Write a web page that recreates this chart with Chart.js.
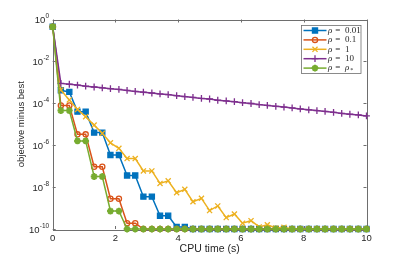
<!DOCTYPE html>
<html>
<head>
<meta charset="utf-8">
<script src="https://cdn.jsdelivr.net/npm/chart.js@4/dist/chart.umd.min.js"></script>
<style>
  html,body{margin:0;padding:0;background:#fff}
  #c{display:block}
</style>
</head>
<body>
<canvas id="c" width="407" height="258"></canvas>
<script>
// CPU time samples (s)
const tSec = [0, 0.26, 0.53, 0.79, 1.05, 1.32, 1.58, 1.84, 2.11, 2.37, 2.63, 2.89, 3.16,
  3.42, 3.68, 3.95, 4.21, 4.47, 4.74, 5.00, 5.26, 5.53, 5.79, 6.05, 6.32, 6.58, 6.84,
  7.11, 7.37, 7.63, 7.89, 8.16, 8.42, 8.68, 8.95, 9.21, 9.47, 9.74, 10.00];

const rho001 = [0.45, 4.2e-4, 3.5e-4, 4.0e-5, 4.0e-5, 4.0e-6, 4.0e-6, 3.4e-7, 3.4e-7,
  3.6e-8, 3.6e-8, 3.5e-9, 3.5e-9, 4.3e-10, 4.3e-10, 1.26e-10, 1.26e-10,
  1e-10, 1e-10, 1e-10, 1e-10, 1e-10, 1e-10, 1e-10, 1e-10, 1e-10, 1e-10, 1e-10,
  1e-10, 1e-10, 1e-10, 1e-10, 1e-10, 1e-10, 1e-10, 1e-10, 1e-10, 1e-10, 1e-10];

const rho01 = [0.45, 7.8e-5, 7.8e-5, 3.3e-6, 3.3e-6, 9.3e-8, 9.3e-8, 2.8e-9, 2.8e-9,
  1.9e-10, 1.9e-10, 1e-10, 1e-10, 1e-10, 1e-10, 1e-10, 1e-10, 1e-10, 1e-10, 1e-10,
  1e-10, 1e-10, 1e-10, 1e-10, 1e-10, 1e-10, 1e-10, 1e-10, 1e-10, 1e-10, 1e-10,
  1e-10, 1e-10, 1e-10, 1e-10, 1e-10, 1e-10, 1e-10, 1e-10];

const rho1 = [0.45, 4.3e-4, 1.45e-4, 5.1e-5, 2.3e-5, 9.1e-6, 3.7e-6, 1.3e-6, 7.1e-7,
  2.3e-7, 2.3e-7, 5.9e-8, 5.9e-8, 1.5e-8, 2.0e-8, 5.4e-9, 7.8e-9, 2.0e-9, 2.9e-9,
  7.6e-10, 1.26e-9, 3.5e-10, 5.2e-10, 1.9e-10, 2.5e-10, 1.26e-10, 1.6e-10, 1.12e-10,
  1.2e-10, 1e-10, 1e-10, 1e-10, 1e-10, 1e-10, 1e-10, 1e-10, 1e-10, 1e-10, 1e-10];

const rho10 = [0.45, 8.9e-4, 8.1e-4, 7.4e-4, 6.6e-4, 6.0e-4, 5.5e-4, 5.0e-4, 4.6e-4,
  4.1e-4, 3.7e-4, 3.4e-4, 3.1e-4, 2.8e-4, 2.6e-4, 2.3e-4, 2.1e-4, 1.9e-4, 1.7e-4,
  1.6e-4, 1.4e-4, 1.3e-4, 1.2e-4, 1.07e-4, 9.8e-5, 8.7e-5, 7.9e-5, 7.2e-5, 6.6e-5,
  6.0e-5, 5.4e-5, 4.9e-5, 4.5e-5, 4.1e-5, 3.7e-5, 3.3e-5, 3.0e-5, 2.8e-5, 2.5e-5];

const rhoStar = [0.45, 4.5e-5, 4.5e-5, 1.6e-6, 1.6e-6, 3.2e-8, 3.2e-8, 7.2e-10, 7.2e-10,
  1e-10, 1e-10, 1e-10, 1e-10, 1e-10, 1e-10, 1e-10, 1e-10, 1e-10, 1e-10, 1e-10,
  1e-10, 1e-10, 1e-10, 1e-10, 1e-10, 1e-10, 1e-10, 1e-10, 1e-10, 1e-10, 1e-10,
  1e-10, 1e-10, 1e-10, 1e-10, 1e-10, 1e-10, 1e-10, 1e-10];

const seriesLabels = ['\u03C1 = 0.01', '\u03C1 = 0.1', '\u03C1 = 1', '\u03C1 = 10', '\u03C1 = \u03C1*'];
const xTicks = [0, 2, 4, 6, 8, 10];
const yTickExps = [0, -2, -4, -6, -8, -10];

const TXT = '#262626', AX = '#6e6e6e';
const pts = arr => arr.map((v, i) => ({x: tSec[i], y: v}));

const styles = [
  {c: '#0072BD', p: 'rect', r: 3.6, fill: '#0072BD', ord: 5},
  {c: '#D95319', p: 'circle', r: 2.6, fill: 'rgba(255,255,255,0)', ord: 4},
  {c: '#EDB120', p: 'crossRot', r: 3.6, fill: '#EDB120', ord: 3},
  {c: '#7E2F8E', p: 'cross', r: 3.4, fill: '#7E2F8E', ord: 2},
  {c: '#77AC30', p: 'star', r: 3.4, fill: '#77AC30', ord: 1}
];
const allData = [rho001, rho01, rho1, rho10, rhoStar];

const datasets = allData.map((d, i) => ({
  label: seriesLabels[i],
  data: pts(d),
  borderColor: styles[i].c,
  backgroundColor: styles[i].fill,
  borderWidth: 1.5,
  pointStyle: styles[i].p,
  pointRadius: styles[i].r,
  pointBorderWidth: i === 4 ? 2 : 1.3,
  pointBorderColor: styles[i].c,
  pointBackgroundColor: styles[i].fill,
  tension: 0,
  clip: false,
  order: styles[i].ord
}));

const frame = {
  id: 'frame',
  beforeDatasetsDraw(chart){
    const {ctx, chartArea: a, scales: {x, y}} = chart;
    ctx.save();
    ctx.strokeStyle = AX; ctx.lineWidth = 1;
    ctx.strokeRect(Math.round(a.left) + 0.5, Math.round(a.top) + 0.5,
      Math.round(a.right - a.left), Math.round(a.bottom - a.top));
    ctx.beginPath();
    xTicks.forEach(v => {
      const px = Math.round(x.getPixelForValue(v)) + 0.5;
      ctx.moveTo(px, a.bottom); ctx.lineTo(px, a.bottom - 3);
      ctx.moveTo(px, a.top); ctx.lineTo(px, a.top + 3);
    });
    yTickExps.forEach(e => {
      const py = Math.round(y.getPixelForValue(Math.pow(10, e))) + 0.5;
      ctx.moveTo(a.left, py); ctx.lineTo(a.left + 3, py);
      ctx.moveTo(a.right, py); ctx.lineTo(a.right - 3, py);
    });
    ctx.stroke();

    ctx.fillStyle = TXT;
    ctx.font = '9.5px "Liberation Sans", Arial, sans-serif';
    ctx.textAlign = 'center'; ctx.textBaseline = 'middle';
    xTicks.forEach(v => ctx.fillText(String(v), x.getPixelForValue(v), a.bottom + 9.5));
    ctx.font = '10.5px "Liberation Sans", Arial, sans-serif';
    ctx.fillText('CPU time (s)', (a.left + a.right) / 2, a.bottom + 20.5);

    yTickExps.forEach(e => {
      const py = y.getPixelForValue(Math.pow(10, e));
      const exp = e === 0 ? '0' : '-' + Math.abs(e);
      ctx.font = '6.5px "Liberation Sans", Arial, sans-serif';
      const ew = ctx.measureText(exp).width;
      const ex = a.left - 3.5 - ew;
      ctx.textAlign = 'left'; ctx.textBaseline = 'alphabetic';
      ctx.fillText(exp, ex, py - 1.5);
      ctx.font = '9.5px "Liberation Sans", Arial, sans-serif';
      ctx.textAlign = 'right';
      ctx.fillText('10', ex - 0.3, py + 3.8);
    });

    ctx.translate(21, (a.top + a.bottom) / 2);
    ctx.rotate(-Math.PI / 2);
    ctx.textAlign = 'center'; ctx.textBaseline = 'middle';
    ctx.font = '9.5px "Liberation Sans", Arial, sans-serif';
    ctx.fillText('objective minus best', 0, 0);
    ctx.restore();
  },
  afterDraw(chart){
    const {ctx} = chart;
    const bx = 301.5, by = 25.5, bw = 59.5, bh = 48;
    ctx.save();
    ctx.fillStyle = '#fff'; ctx.fillRect(bx, by, bw, bh);
    ctx.strokeStyle = AX; ctx.lineWidth = 0.8; ctx.strokeRect(bx, by, bw, bh);
    chart.data.datasets.forEach((ds, i) => {
      const ly = 30.5 + i * 9.4;
      ctx.strokeStyle = ds.borderColor; ctx.lineWidth = 1.5;
      ctx.beginPath(); ctx.moveTo(303.5, ly); ctx.lineTo(326.5, ly); ctx.stroke();
      ctx.lineWidth = ds.pointBorderWidth;
      ctx.fillStyle = ds.pointBackgroundColor;
      Chart.helpers.drawPoint(ctx, {pointStyle: ds.pointStyle, radius: ds.pointRadius,
        borderWidth: ds.pointBorderWidth, rotation: 0}, 315, ly);
      ctx.fillStyle = TXT;
      ctx.font = 'italic 9px "Liberation Serif", "DejaVu Serif", serif';
      ctx.textAlign = 'left'; ctx.textBaseline = 'middle';
      const parts = ds.label.split(' = ');
      ctx.fillText('\u03C1', 328, ly);
      ctx.font = '9px "Liberation Serif", "DejaVu Serif", serif';
      ctx.fillText(' = ', 328 + 5, ly);
      if (parts[1] === '\u03C1*') {
        ctx.font = 'italic 9px "Liberation Serif", "DejaVu Serif", serif';
        ctx.fillText('\u03C1', 345, ly);
        ctx.font = 'italic 6px "Liberation Serif", "DejaVu Serif", serif';
        ctx.fillText('*', 350, ly + 2.5);
      } else {
        ctx.fillText(parts[1], 345, ly);
      }
    });
    ctx.restore();
  }
};

new Chart(document.getElementById('c'), {
  type: 'line',
  data: {datasets},
  options: {
    responsive: false,
    animation: false,
    devicePixelRatio: 1,
    layout: {padding: {left: 0, right: 40.5, top: 19.5, bottom: 0}},
    plugins: {legend: {display: false}, tooltip: {enabled: false}},
    scales: {
      x: {
        type: 'linear', min: 0, max: 10,
        ticks: {display: false, stepSize: 2},
        grid: {display: false}, border: {display: false},
        afterFit: s => { s.height = 29; }
      },
      y: {
        type: 'logarithmic', min: 1e-10, max: 1,
        ticks: {display: false},
        grid: {display: false}, border: {display: false},
        afterFit: s => { s.width = 52.7; }
      }
    }
  },
  plugins: [frame]
});
</script>
</body>
</html>
